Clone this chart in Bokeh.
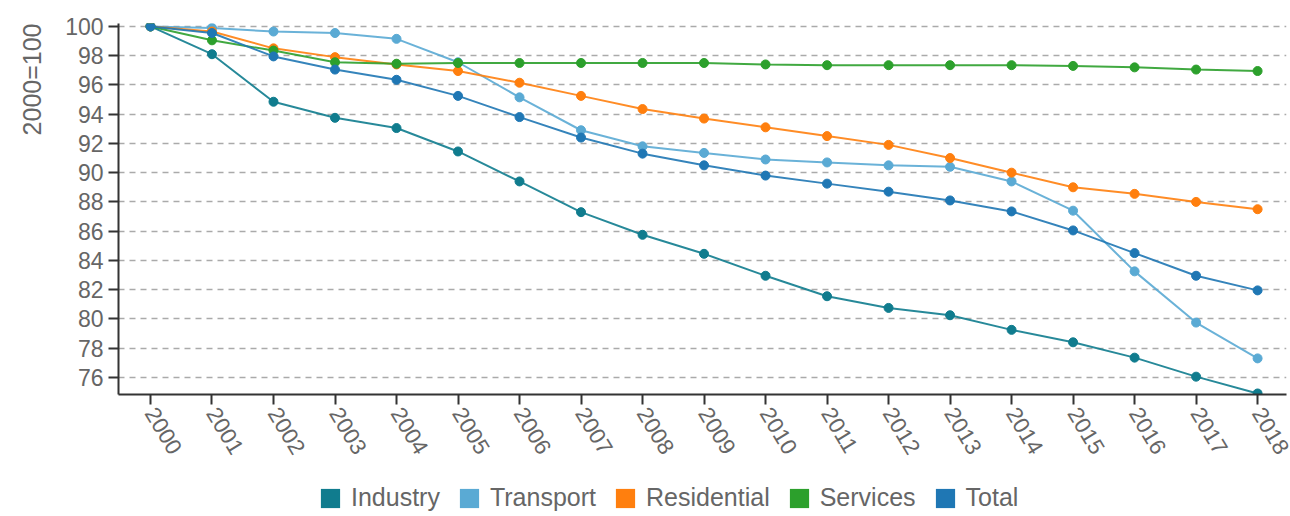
from bokeh.embed import file_html
from bokeh.layouts import column
from bokeh.models import FixedTicker, Legend, LegendItem, Range1d, Title
from bokeh.plotting import figure
from bokeh.resources import INLINE

# Final energy consumption by sector, indexed to 2000 = 100
years = list(range(2000, 2019))
industry = [100, 98.1, 94.85, 93.75, 93.05, 91.45, 89.4, 87.3, 85.75, 84.45,
            82.95, 81.55, 80.75, 80.25, 79.25, 78.4, 77.35, 76.05, 74.9]
transport = [100, 99.9, 99.65, 99.55, 99.15, 97.55, 95.15, 92.9, 91.8, 91.35,
             90.9, 90.7, 90.5, 90.4, 89.4, 87.4, 83.25, 79.75, 77.3]
residential = [100, 99.65, 98.5, 97.9, 97.4, 96.95, 96.15, 95.25, 94.35, 93.7,
               93.1, 92.5, 91.9, 91.0, 90.0, 89.0, 88.55, 88.0, 87.5]
services = [100, 99.05, 98.35, 97.55, 97.45, 97.5, 97.5, 97.5, 97.5, 97.5,
            97.4, 97.35, 97.35, 97.35, 97.35, 97.3, 97.2, 97.05, 96.95]
total = [100, 99.55, 97.95, 97.05, 96.35, 95.25, 93.8, 92.4, 91.3, 90.5,
         89.8, 89.25, 88.7, 88.1, 87.35, 86.05, 84.5, 82.95, 81.95]

series_names = ["Industry", "Transport", "Residential", "Services", "Total"]
series_values = [industry, transport, residential, services, total]
series_colors = ["#107c8e", "#5aaad4", "#ff7f0e", "#2ca02c", "#1f77b4"]
y_ticks = list(range(76, 101, 2))
y_axis_title = "2000=100"

FONT = "Liberation Sans"
TEXT_GREY = "#666666"
W = 1290
CHART_H = 470
LEGEND_H = 46

p = figure(
    width=W, height=CHART_H,
    output_backend="svg", toolbar_location=None,
    x_range=Range1d(1999.48, 2018.47),
    y_range=Range1d(74.83, 100.2),
    min_border_left=118, min_border_right=4,
    min_border_top=23, min_border_bottom=CHART_H - 394,
)
p.outline_line_color = None

# grid: dashed horizontal lines only
p.xgrid.grid_line_color = None
p.ygrid.grid_line_color = "#aaaaaa"
p.ygrid.grid_line_width = 1.5
p.ygrid.grid_line_dash = "6 5"

# axes
for ax in (p.xaxis[0], p.yaxis[0]):
    ax.axis_line_color = "#333333"
    ax.axis_line_width = 2
    ax.major_tick_line_color = "#333333"
    ax.major_tick_line_width = 2
    ax.major_tick_out = 10
    ax.major_tick_in = 0
    ax.minor_tick_line_color = None
    ax.major_label_text_font = FONT
    ax.major_label_text_color = TEXT_GREY
    ax.major_label_standoff = 5

p.yaxis.major_label_text_font_size = "23px"
p.xaxis.major_label_text_font_size = "22.5px"
p.xaxis.ticker = FixedTicker(ticks=years)
p.xaxis.major_label_orientation = -1.03
p.yaxis.ticker = FixedTicker(ticks=y_ticks)

# y axis title, set at the top end of the axis, on the outer edge
p.add_layout(Title(
    text=y_axis_title, align="right", vertical_align="top", standoff=30,
    text_font=FONT, text_font_size="25px", text_font_style="normal",
    text_color=TEXT_GREY,
), "left")

# series lines with point markers
for vals, color in zip(series_values, series_colors):
    p.line(years, vals, line_color=color, line_width=2, line_alpha=0.9)
    p.scatter(years, vals, size=9, fill_color=color, line_color=color,
              line_width=1)

# legend strip underneath the chart
lg = figure(
    width=W, height=LEGEND_H,
    output_backend="svg", toolbar_location=None,
    x_range=Range1d(0, 1), y_range=Range1d(0, 1),
    min_border=0,
)
lg.outline_line_color = None
lg.axis.visible = False
lg.grid.visible = False

# colour swatches for the legend (placed outside the visible range)
legend_items = []
for name, color in zip(series_names, series_colors):
    swatch = lg.quad(left=[2], right=[3], top=[3], bottom=[2],
                     fill_color=color, line_color=None)
    legend_items.append(LegendItem(label=name, renderers=[swatch]))

legend = Legend(
    items=legend_items,
    orientation="horizontal",
    location=(200, 4),
    glyph_width=24, glyph_height=24,
    label_standoff=9, spacing=17,
    padding=0, margin=0,
    border_line_color=None,
    background_fill_alpha=0,
    label_text_font=FONT,
    label_text_font_size="25px",
    label_text_color=TEXT_GREY,
)
lg.add_layout(legend, "center")

layout = column(p, lg, spacing=0)
open("out.html", "w").write(file_html(layout, INLINE))
